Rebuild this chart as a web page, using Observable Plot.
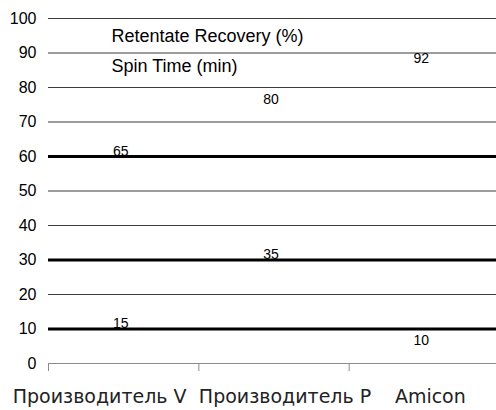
<!DOCTYPE html>
<html>
<head>
<meta charset="utf-8">
<script src="https://cdn.jsdelivr.net/npm/d3@7"></script>
<script src="https://cdn.jsdelivr.net/npm/@observablehq/plot@0.6"></script>
<style>
  html, body { margin: 0; padding: 0; background: #fff; overflow: hidden; }
</style>
</head>
<body>
<div id="chart"></div>
<script>
const categories = ["Производитель V", "Производитель P", "Amicon"];
const seriesNames = ["Retentate Recovery (%)", "Spin Time (min)"];
const recovery = [65, 80, 92];
const spinTime = [15, 35, 10];
const yTicks = [0, 10, 20, 30, 40, 50, 60, 70, 80, 90, 100];

const labels = [
  ...recovery.map((v, i) => ({pos: i + 0.5, value: v, series: seriesNames[0]})),
  ...spinTime.map((v, i) => ({pos: i + 0.5, value: v, series: seriesNames[1]}))
];
const boundaries = categories.map((c, i) => i).concat([categories.length]);
const heavy = new Set([10, 30, 60]);
// horizontal nudges of the category labels, as laid out in the reference
const labelNudge = [-24, 11, 6];

const chart = Plot.plot({
  width: 496,
  height: 410,
  marginLeft: 48,
  marginRight: 0,
  marginTop: 18,
  marginBottom: 47,
  style: {fontFamily: "'Liberation Sans', Arial, sans-serif", background: "#fff", color: "#000", overflow: "hidden"},
  x: {domain: [0, categories.length], range: [48, 499], axis: null},
  y: {domain: [0, 100], axis: null},
  marks: [
    Plot.ruleY(yTicks.filter(v => v > 0), {
      y: d => d,
      stroke: d => heavy.has(d) ? "#000" : "#3a3a3a",
      strokeWidth: d => heavy.has(d) ? 3 : 1
    }),
    Plot.ruleY([0], {stroke: "#8a8a8a", strokeWidth: 1}),
    Plot.axisY({ticks: yTicks, tickSize: 0, tickPadding: 12, fontSize: 16, label: null, fill: "#000"}),
    Plot.axisX({ticks: boundaries, tickSize: 8, tickFormat: () => "", stroke: "#8a8a8a", label: null}),
    ...categories.map((c, i) => Plot.axisX({ticks: [i + 0.5], tickSize: 0, tickPadding: 26,
      tickFormat: d => categories[Math.floor(d)], dx: labelNudge[i],
      fontSize: 19, fontFamily: "'DejaVu Sans', sans-serif", fill: "#222", label: null})),
    Plot.text(labels, {x: "pos", y: "value", text: d => String(d.value), dy: 12, dx: -3,
      lineAnchor: "middle", fontSize: 14, fill: "#000"}),
    Plot.text([seriesNames[0]], {frameAnchor: "top-left", text: d => d, dx: 63, dy: 18,
      textAnchor: "start", lineAnchor: "middle", fontSize: 18, fill: "#000"}),
    Plot.text([seriesNames[1]], {frameAnchor: "top-left", text: d => d, dx: 63, dy: 48,
      textAnchor: "start", lineAnchor: "middle", fontSize: 18, fill: "#000"})
  ]
});
document.getElementById("chart").appendChild(chart);
</script>
</body>
</html>
